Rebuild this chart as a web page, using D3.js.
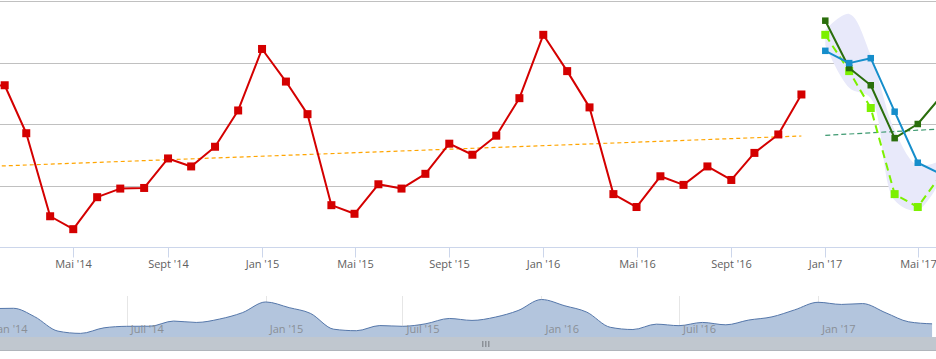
<!DOCTYPE html>
<html><head><meta charset="utf-8">
<script src="https://cdn.jsdelivr.net/npm/d3@7"></script>
<style>
body{margin:0;background:#fff;}
svg{display:block;font-family:"Open Sans",sans-serif;}
</style></head>
<body><svg id="c" width="936" height="359"></svg>
<script>
// ---------- DATA ----------
const actualStart = "2014-01-01";
const actualValues = [260, 263, 185, 50, 29, 81, 95, 96, 144, 131, 163, 222,
                      322, 269, 216, 68, 54, 102, 95, 119, 168, 150, 181, 242,
                      345, 286, 227, 86, 65, 115, 101, 131, 109, 153, 183, 248];
const forecastStart = "2017-01-01";
const forecastBlue = [319, 299, 307, 220, 137, 118];
const forecastDarkGreen = [368, 291, 263, 177, 200, 246];
const forecastLightGreen = [345, 286, 226, 86, 65, 119];
const bandHigh = [353, 379, 312, 190, 133, 141];
const bandLow  = [328, 259, 242, 76, 60, 112];
const trendActual = [["2014-01-01", 130.5], ["2016-12-01", 180.5]];
const trendForecast = [["2017-01-01", 181.6], ["2017-06-01", 192]];
const yTicks = [0, 100, 200, 300, 400];
const mainTickDates = ["2014-05-01","2014-09-01","2015-01-01","2015-05-01","2015-09-01","2016-01-01","2016-05-01","2016-09-01","2017-01-01","2017-05-01"];
const mainTickLabels = ["Mai '14","Sept '14","Jan '15","Mai '15","Sept '15","Jan '16","Mai '16","Sept '16","Jan '17","Mai '17"];
const navTickDates = ["2014-01-01","2014-07-01","2015-01-01","2015-07-01","2016-01-01","2016-07-01","2017-01-01"];
const navTickLabels = ["Jan '14","Juil '14","Jan '15","Juil '15","Jan '16","Juil '16","Jan '17"];

// ---------- SETUP ----------
const W = 936;
const parse = d3.utcParse("%Y-%m-%d");
const monthsFrom = (start, n) => d3.range(n).map(i => d3.utcMonth.offset(parse(start), i));
const actual = monthsFrom(actualStart, actualValues.length).map((d, i) => ({d, v: actualValues[i]}));
const fDates = monthsFrom(forecastStart, forecastBlue.length);
const mk = arr => fDates.map((d, i) => ({d, v: arr[i]}));
const blue = mk(forecastBlue), dkg = mk(forecastDarkGreen), ltg = mk(forecastLightGreen);
const band = fDates.map((d, i) => ({d, hi: bandHigh[i], lo: bandLow[i]}));

const x = d3.scaleUtc().domain([parse("2014-01-01"), parse("2017-01-01")]).range([-19.2, 825.3]);
const y = d3.scaleLinear().domain([0, 400]).range([247, 1]);

const svg = d3.select("#c");
svg.append("defs").append("clipPath").attr("id", "clip")
  .append("rect").attr("x", 0).attr("y", 0).attr("width", W).attr("height", 248);

// gridlines
svg.append("g").selectAll("line").data(yTicks.filter(t => t > 0)).join("line")
  .attr("x1", 0).attr("x2", W)
  .attr("y1", d => Math.round(y(d)) + 0.5).attr("y2", d => Math.round(y(d)) + 0.5)
  .attr("stroke", "#c0c0c0").attr("stroke-width", 1);

// x axis
const xAxisG = svg.append("g").attr("transform", `translate(0,${Math.round(y(0)) + 0.5})`);
xAxisG.append("line").attr("x1", 0).attr("x2", W).attr("stroke", "#ccd6eb");
const mt = xAxisG.selectAll("g").data(mainTickDates.map((d, i) => ({d: parse(d), l: mainTickLabels[i]}))).join("g")
  .attr("transform", d => `translate(${Math.round(x(d.d)) + 0.5},0)`);
mt.append("line").attr("y1", 0).attr("y2", 10).attr("stroke", "#ccd6eb");
mt.append("text").attr("y", 20).attr("text-anchor", "middle").attr("fill", "#606060")
  .style("font-size", "11px").text(d => d.l);

const plot = svg.append("g").attr("clip-path", "url(#clip)");

// band
plot.append("path").datum(band)
  .attr("d", d3.area().curve(d3.curveCatmullRom).x(d => x(d.d)).y0(d => y(d.lo)).y1(d => y(d.hi)))
  .attr("fill", "#e8e9fa");

const line = d3.line().x(d => x(d.d)).y(d => y(d.v));
// trend lines
plot.append("path").datum(trendActual.map(t => ({d: parse(t[0]), v: t[1]})))
  .attr("d", line).attr("fill", "none").attr("stroke", "#ffa500").attr("stroke-width", 1.2)
  .attr("stroke-dasharray", "4,3");
plot.append("path").datum(trendForecast.map(t => ({d: parse(t[0]), v: t[1]})))
  .attr("d", line).attr("fill", "none").attr("stroke", "#3d9970").attr("stroke-width", 1.2)
  .attr("stroke-dasharray", "5,3");

function series(data, color, width, size, dash) {
  const g = plot.append("g");
  g.append("path").datum(data).attr("d", line).attr("fill", "none")
    .attr("stroke", color).attr("stroke-width", width)
    .attr("stroke-dasharray", dash || null).attr("stroke-linejoin", "round");
  g.selectAll("rect").data(data).join("rect")
    .attr("x", d => x(d.d) - size / 2).attr("y", d => y(d.v) - size / 2)
    .attr("width", size).attr("height", size).attr("fill", color);
}
series(actual, "#d40000", 2, 8);
series(ltg, "#7cf000", 2, 8, "8,5");
series(dkg, "#2a6e0c", 2, 6.5);
series(blue, "#168ecb", 2, 6.5);

// ---------- NAVIGATOR ----------
const xn = d3.scaleUtc().domain([parse("2014-01-01"), parse("2017-01-01")]).range([-10, 818]);
const navData = actual.concat(blue);
const yn = d3.scaleLinear().domain([0, d3.max(navData, d => d.v)]).range([336.5, 299.5]);

const ng = svg.append("g");
ng.selectAll("line.g").data(navTickDates.map(parse)).join("line")
  .attr("x1", d => Math.round(xn(d)) + 0.5).attr("x2", d => Math.round(xn(d)) + 0.5)
  .attr("y1", 296).attr("y2", 337).attr("stroke", "#e6e6e6");
ng.append("path").datum(navData)
  .attr("d", d3.area().curve(d3.curveMonotoneX).x(d => xn(d.d)).y0(337).y1(d => yn(d.v)))
  .attr("fill", "#b3c5dd");
ng.append("path").datum(navData)
  .attr("d", d3.line().curve(d3.curveMonotoneX).x(d => xn(d.d)).y(d => yn(d.v)))
  .attr("fill", "none").attr("stroke", "#5577aa").attr("stroke-width", 1);
ng.selectAll("text").data(navTickDates.map((d, i) => ({d: parse(d), l: navTickLabels[i]}))).join("text")
  .attr("x", d => xn(d.d) + 4).attr("y", 333).attr("fill", "#8a8f96")
  .style("font-size", "11px").text(d => d.l);

// scrollbar
ng.append("rect").attr("x", 0).attr("y", 337).attr("width", W).attr("height", 13).attr("fill", "#c0c7cf");
ng.append("line").attr("x1", 0).attr("x2", W).attr("y1", 350.5).attr("y2", 350.5).attr("stroke", "#b0b5bb");
ng.selectAll("rect.grip").data([0, 1, 2]).join("rect")
  .attr("x", d => 482 + d * 3).attr("y", 341).attr("width", 1.5).attr("height", 6).attr("fill", "#8c9198");
</script>
</body></html>
